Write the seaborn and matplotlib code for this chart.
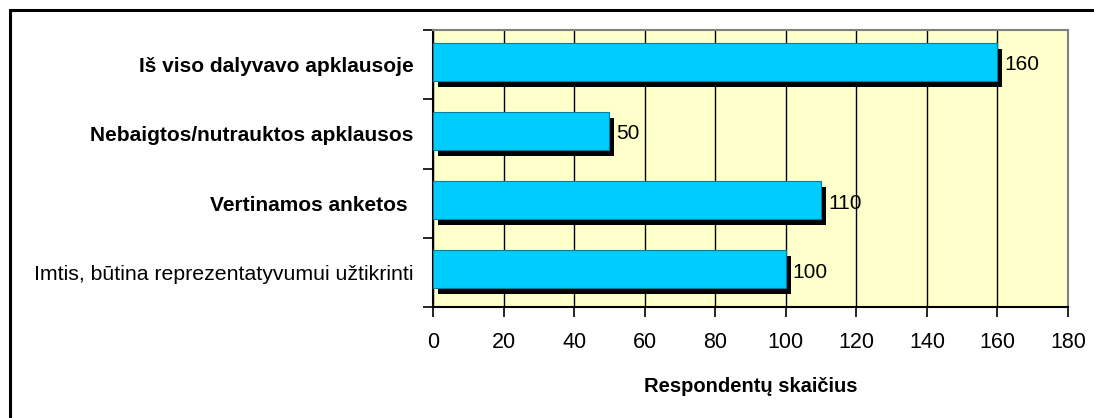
import matplotlib
matplotlib.use("Agg")
import matplotlib.pyplot as plt
import matplotlib.transforms as mtransforms
from matplotlib.patches import Rectangle
import seaborn as sns
import pandas as pd
from matplotlib.ticker import FixedLocator

categories = [
    "Iš viso dalyvavo apklausoje",
    "Nebaigtos/nutrauktos apklausos",
    "Vertinamos anketos ",
    "Imtis, būtina reprezentatyvumui užtikrinti",
]
values = [160, 50, 110, 100]
bold_flags = [True, True, True, False]
x_ticks = [0, 20, 40, 60, 80, 100, 120, 140, 160, 180]
x_label = "Respondentų skaičius"

sns.set_theme(style="white")
plt.rcParams["font.family"] = ["Liberation Sans", "DejaVu Sans"]
plt.rcParams["text.color"] = "black"
plt.rcParams["xtick.color"] = "black"
plt.rcParams["ytick.color"] = "black"
plt.rcParams["axes.labelcolor"] = "black"

df = pd.DataFrame({"cat": categories, "val": values})

fig = plt.figure(figsize=(10.94, 4.18), dpi=100)
ax = fig.add_axes([433 / 1094, 1 - 307 / 418, (1068 - 433) / 1094, (307 - 30) / 418])
ax.set_facecolor("#FFFFCC")

sns.barplot(data=df, x="val", y="cat", orient="h", color="#00CCFF",
            saturation=1, width=0.55, edgecolor="#0080A0", linewidth=0.8,
            ax=ax, zorder=3)

# shift bars up slightly and add black drop shadows
dpi = fig.dpi
bars = list(ax.patches)
for p in bars:
    p.set_transform(ax.transData + mtransforms.ScaledTranslation(0, 3 / dpi, fig.dpi_scale_trans))
    sh = Rectangle(p.get_xy(), p.get_width(), p.get_height(), facecolor="black",
                   edgecolor="none", zorder=2,
                   transform=ax.transData + mtransforms.ScaledTranslation(5 / dpi, -3 / dpi, fig.dpi_scale_trans))
    ax.add_patch(sh)

ax.bar_label(ax.containers[0], labels=[str(v) for v in values], padding=5,
             fontsize=15, color="black")
for t in ax.texts:
    t.set_transform(t.get_transform() + mtransforms.ScaledTranslation(0, 2 / dpi, fig.dpi_scale_trans))

ax.set_xlim(0, 180)
ax.set_ylim(3.5, -0.5)
ax.xaxis.set_major_locator(FixedLocator(x_ticks))
ax.set_xticklabels([str(v) for v in x_ticks], fontsize=15.5)
ax.grid(axis="x", color="black", linewidth=1.0, zorder=1)
ax.set_axisbelow(True)

ax.set_yticks(range(len(categories)))
ax.set_yticklabels(categories)
for lbl, b in zip(ax.get_yticklabels(), bold_flags):
    if b:
        lbl.set_fontweight("bold")
        lbl.set_fontsize(15)
        lbl.set_color("black")
    else:
        lbl.set_fontsize(15.3)
        lbl.set_color("black")
ax.tick_params(axis="y", which="major", length=0, pad=14)
ax.yaxis.set_minor_locator(FixedLocator([-0.5, 0.5, 1.5, 2.5, 3.5]))
ax.tick_params(axis="y", which="minor", length=7, width=1.2, color="black", direction="out", left=True)
ax.tick_params(axis="x", which="major", length=7, width=1.2, color="black", direction="out",
               bottom=True, pad=11)

ax.set_xlabel(x_label, fontsize=14.5, fontweight="bold", labelpad=17, color="black")
ax.set_ylabel("")

for s in ["left", "bottom"]:
    ax.spines[s].set_color("black")
    ax.spines[s].set_linewidth(1.5)
for s in ["top", "right"]:
    ax.spines[s].set_color("#808080")
    ax.spines[s].set_linewidth(1.5)

# outer chart border (extends beyond right/bottom edges)
fig.patches.append(Rectangle((10 / 1094, -0.05), 1.2, 1 - 10 / 418 + 0.05,
                             transform=fig.transFigure, facecolor="none",
                             edgecolor="black", linewidth=2.2))

fig.savefig("out.png", dpi=100)
